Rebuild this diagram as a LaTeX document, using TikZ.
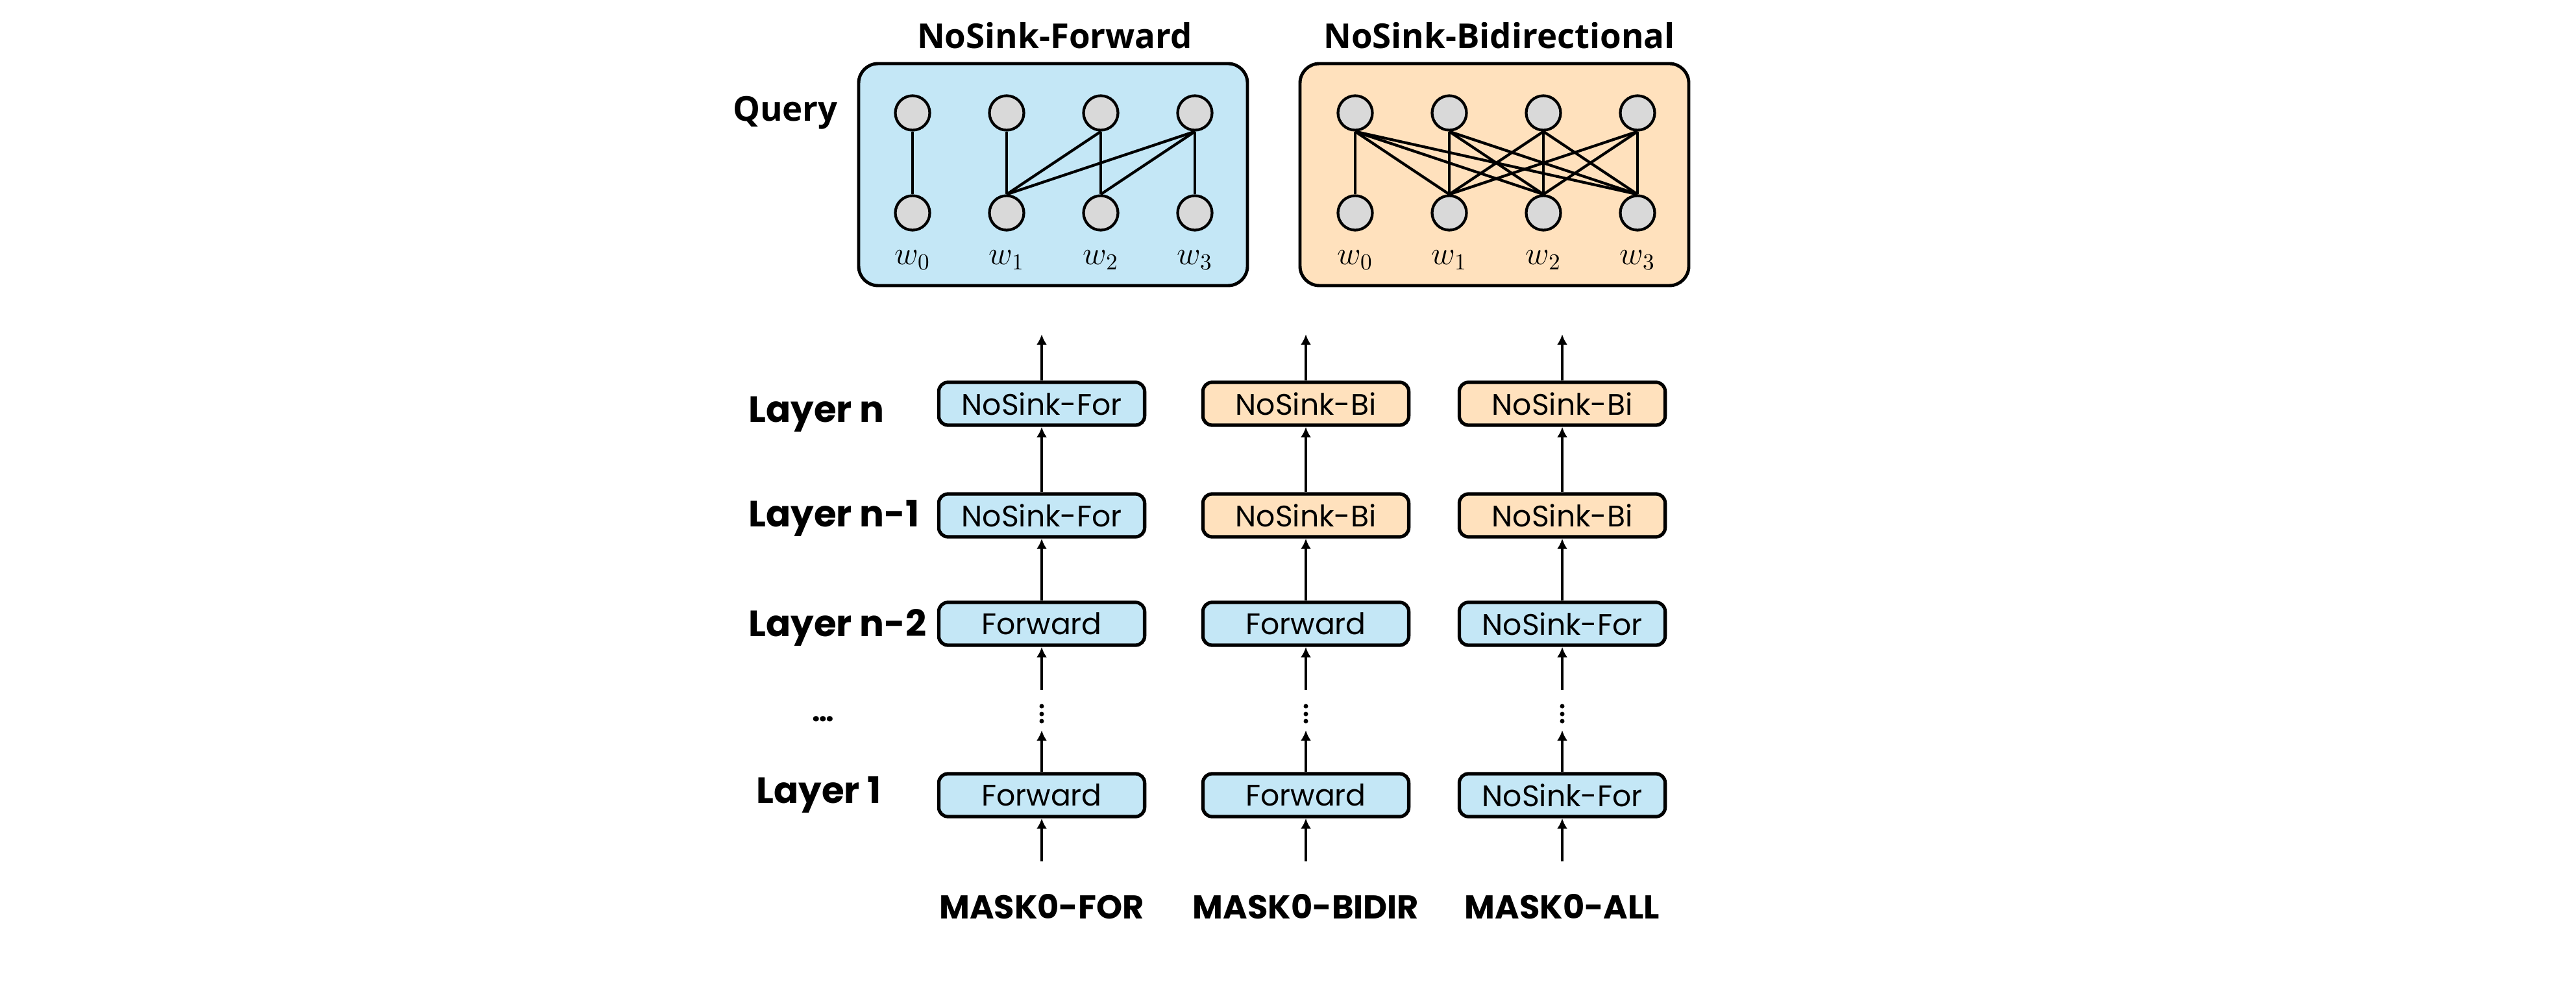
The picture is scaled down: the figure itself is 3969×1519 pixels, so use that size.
\documentclass[tikz,border=0pt]{standalone}
\usepackage{fontspec}
\usepackage{tikz}
\usetikzlibrary{arrows.meta,positioning}
\newfontfamily\popfont{Poppins}
\newfontfamily\titlefont{Open Sans}
\definecolor{forblue}{HTML}{C4E7F6}
\definecolor{biorange}{HTML}{FFE1BD}
\definecolor{tokengray}{HTML}{D9D9D9}
\tikzset{
  forbox/.style={draw=black,rounded corners=4pt,fill=forblue,minimum width=3.17cm,minimum height=.66cm,inner sep=0pt,line width=1.5pt,font=\popfont\fontsize{13}{14}\selectfont},
  bibox/.style={forbox,fill=biorange},
  panel/.style={draw=black,rounded corners=8.5pt,line width=1.4pt},
  token/.style={circle,draw=black,fill=tokengray,line width=1.2pt,minimum size=.53cm,inner sep=0pt},
  wlabel/.style={anchor=base,inner sep=0pt,font=\fontsize{14.5}{16}\selectfont},
  attn/.style={line width=1.2pt},
  flow/.style={-{Latex[length=1.6mm,width=1.6mm]},line width=1.1pt},
  laylabel/.style={anchor=base west,inner sep=0pt,font=\popfont\bfseries\fontsize{16}{18}\selectfont},
  masklabel/.style={anchor=base,inner sep=0pt,font=\popfont\bfseries\fontsize{14.5}{16}\selectfont},
  paneltitle/.style={anchor=base,inner sep=0pt,font=\titlefont\bfseries\fontsize{15}{18}\selectfont},
}

\begin{document}
\begin{tikzpicture}[x=0.01cm,y=-0.01cm]
  \useasboundingbox (0,0) rectangle (3969,1519);
  % attention panels
  \draw[panel,fill=forblue] (1323,98) rectangle (1922,440);
  \draw[panel,fill=biorange] (2003,98) rectangle (2602,440);
  \node[paneltitle] (fortitle) at (1625,75) {NoSink-Forward};
  \node[paneltitle] (bititle) at (2310,75) {NoSink-Bidirectional};
  \node[paneltitle] (query) at (1210,187) {Query};
  \foreach \i in {0,...,3}{
    \node[token] (fq\i) at ({1406+145*\i},174) {};
    \node[token] (fk\i) at ({1406+145*\i},328) {};
    \node[wlabel] (fw\i) at ({1406+145*\i},408) {$w_\i$};
    \node[token] (bq\i) at ({2088+145*\i},174) {};
    \node[token] (bk\i) at ({2088+145*\i},328) {};
    \node[wlabel] (bw\i) at ({2088+145*\i},408) {$w_\i$};
  }
  \foreach \q/\k in {0/0,1/1,2/1,2/2,3/1,3/2,3/3}
    \draw[attn] (fq\q.south) -- (fk\k.north);
  \draw[attn] (bq0.south) -- (bk0.north);
  \foreach \q in {0,...,3}
    \foreach \k in {1,2,3}
      \draw[attn] (bq\q.south) -- (bk\k.north);
  % layer stacks
  \node[laylabel] (lay-n) at (1153,651) {Layer n};
  \node[laylabel] (lay-n1) at (1153,812) {Layer n-1};
  \node[laylabel] (lay-n2) at (1153,980) {Layer n-2};
  \node[anchor=base,inner sep=0pt,font=\popfont\bfseries\fontsize{12.5}{14}\selectfont] (lay-dots) at (1268,1111) {…};
  \node[laylabel] (lay-1) at (1165,1237) {Layer 1};

  \node[forbox] (for-n) at (1605,622) {NoSink-For};
  \node[forbox] (for-n1) at (1605,794) {NoSink-For};
  \node[forbox] (for-n2) at (1605,961) {Forward};
  \node[forbox] (for-1) at (1605,1225) {Forward};
  \node[bibox] (bidir-n) at (2012,622) {NoSink-Bi};
  \node[bibox] (bidir-n1) at (2012,794) {NoSink-Bi};
  \node[forbox] (bidir-n2) at (2012,961) {Forward};
  \node[forbox] (bidir-1) at (2012,1225) {Forward};
  \node[bibox] (all-n) at (2407,622) {NoSink-Bi};
  \node[bibox] (all-n1) at (2407,794) {NoSink-Bi};
  \node[forbox] (all-n2) at (2407,961) {NoSink-For};
  \node[forbox] (all-1) at (2407,1225) {NoSink-For};

  \node[masklabel] (mask-for) at (1605,1415) {MASK0-FOR};
  \node[masklabel] (mask-bidir) at (2012,1415) {MASK0-BIDIR};
  \node[masklabel] (mask-all) at (2407,1415) {MASK0-ALL};

  \foreach \c/\x in {for/1605,bidir/2012,all/2407}{
    \coordinate (\c-top) at (\x,515);
    \coordinate (\c-gapA) at (\x,1063);
    \coordinate (\c-gapB) at (\x,1125);
    \coordinate (\c-in) at (\x,1327);
    \draw[flow] (\c-n.north) -- (\c-top);
    \draw[flow] (\c-n1.north) -- (\c-n.south);
    \draw[flow] (\c-n2.north) -- (\c-n1.south);
    \draw[flow] (\c-gapA) -- (\c-n2.south);
    \foreach \d in {1088,1100,1111}
      \fill (\x,\d) circle (0.035cm);
    \draw[flow] (\c-1.north) -- (\c-gapB);
    \draw[flow] (\c-in) -- (\c-1.south);
  }
\end{tikzpicture}
\end{document}
